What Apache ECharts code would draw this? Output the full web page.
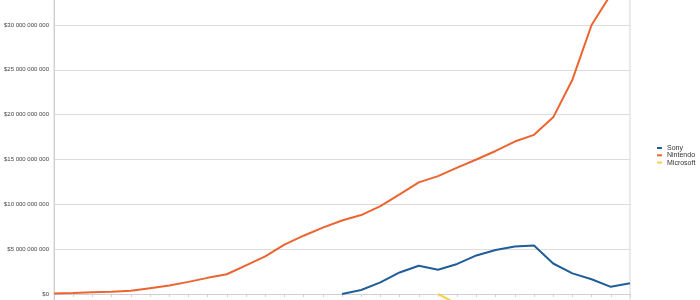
<!DOCTYPE html>
<html>
<head>
<meta charset="utf-8">
<script src="https://cdn.jsdelivr.net/npm/echarts@6/dist/echarts.min.js"></script>
<style>html,body{margin:0;padding:0;background:#fff;}#c{width:700px;height:300px;}</style>
</head>
<body>
<div id="c"></div>
<script>
// values in billions of US dollars
var categories = ['1','2','3','4','5','6','7','8','9','10','11','12','13','14','15','16','17','18','19','20','21','22','23','24','25','26','27','28','29','30','31'];
var sony = [null,null,null,null,null,null,null,null,null,null,null,null,null,null,null,
  0.0,0.45,1.3,2.4,3.15,2.7,3.35,4.3,4.9,5.3,5.4,3.4,2.3,1.65,0.8,1.2];
var nintendo = [0.05,0.1,0.2,0.25,0.35,0.65,0.95,1.35,1.8,2.2,3.2,4.2,5.5,6.5,7.4,8.2,8.8,9.8,11.1,12.45,13.15,14.1,15.0,15.95,17.0,17.75,19.7,23.9,30.0,33.4,37.0];
var microsoft = [null,null,null,null,null,null,null,null,null,null,null,null,null,null,null,null,null,null,null,null,
  0.0,-1.1];
var seriesNames = ['Sony','Nintendo','Microsoft'];
var seriesColors = ['#215d98','#ec6431','#f3d34c'];

function fmt(v){
  var n = Math.round(v*1e9);
  var s = Math.abs(n).toString().replace(/\B(?=(\d{3})+(?!\d))/g,' ');
  return (n<0?'-':'')+'$'+s;
}

var chart = echarts.init(document.getElementById('c'), null, {renderer:'canvas'});
var dataSets = [sony, nintendo, microsoft];
chart.setOption({
  animation:false,
  textStyle:{fontFamily:'Liberation Sans, Arial, sans-serif'},
  grid:{left:54, right:70, top:-19.85, bottom:-38.83, show:true, borderColor:'#d6d6d6', borderWidth:1,
        containLabel:false, outerBoundsMode:'none'},
  legend:{
    orient:'vertical', left:657, top:144.5, padding:0,
    itemWidth:5, itemHeight:2, itemGap:0.3,
    textStyle:{fontSize:7, color:'#333', lineHeight:7},
    icon:'rect',
    data:seriesNames
  },
  xAxis:{
    type:'category', data:categories, boundaryGap:false,
    axisLine:{onZero:true, lineStyle:{color:'#d0d0d0', width:1}},
    axisTick:{show:true, length:3, lineStyle:{color:'#cfcfcf'}},
    axisLabel:{show:false},
    splitLine:{show:false}
  },
  yAxis:{
    type:'value', min:-5, max:35, interval:5,
    axisLine:{show:true, lineStyle:{color:'#d0d0d0'}},
    axisTick:{show:false},
    axisLabel:{formatter:fmt, fontSize:6, color:'#444', margin:5},
    splitLine:{show:true, lineStyle:{color:'#dcdcdc', width:1}}
  },
  series: seriesNames.map(function(name,i){
    return {
      name:name, type:'line', data:dataSets[i], showSymbol:false, symbol:'none',
      connectNulls:false, clip:false,
      lineStyle:{color:seriesColors[i], width:2},
      itemStyle:{color:seriesColors[i]}
    };
  })
});
</script>
</body>
</html>
